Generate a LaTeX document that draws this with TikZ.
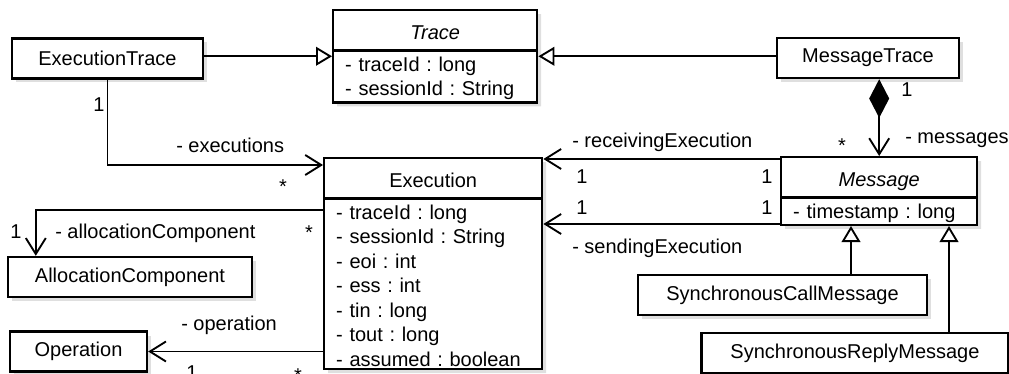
\documentclass[tikz,border=0pt]{standalone}
\usepackage{fontspec}
\setmainfont{Liberation Sans}
\usetikzlibrary{arrows.meta,shapes.multipart,shadows,calc}

\frenchspacing
\newcommand{\classtitle}[1]{\hbox to\hsize{\hss\rule[-6.75pt]{0pt}{26.5pt}#1\hss}}
\newcommand{\attrtop}{\raggedright\rule{0pt}{13.5pt}}

\begin{document}
\begin{tikzpicture}[
  x=0.75pt, y=-0.75pt,
  font=\fontsize{15}{18.4}\selectfont,
  boxlook/.style={rectangle, draw, line width=1.8pt, fill=white, drop shadow={shadow xshift=3pt, shadow yshift=-3pt, opacity=0.25}},
  classbox/.style={boxlook, minimum height=30pt, text centered},
  splitbox/.style={boxlook, rectangle split, rectangle split parts=2, anchor=north west, inner xsep=9pt, inner ysep=1pt},
  assoc/.style={-{Straight Barb[length=12pt, width=15pt]}, line width=1.4pt},
  inherit/.style={-{Triangle[open, length=12pt, width=14pt, fill=white]}, line width=1.4pt},
  compose/.style={{Diamond[length=29pt, width=15pt]}-{Straight Barb[length=12pt, width=15pt]}, line width=1.4pt},
  lbl/.style={anchor=base, inner sep=0pt},
  role/.style={anchor=base west, inner sep=0pt}
]
\useasboundingbox (0,0) rectangle (1009,374);

% Classes with attributes
\node[splitbox, text width=135pt] (trace) at (332,9) {\classtitle{\textit{Trace}}\nodepart{two}\attrtop- traceId : long\\- sessionId : String};
\node[splitbox, text width=145.5pt] (exec) at (323,157) {\classtitle{Execution}\nodepart{two}\attrtop- traceId : long\\- sessionId : String\\- eoi : int\\- ess : int\\- tin : long\\- tout : long\\- assumed : boolean};
\node[splitbox, text width=129pt] (msg) at (780,156) {\classtitle{\textit{Message}}\nodepart{two}\attrtop- timestamp : long};

% Plain classes
\node[classbox, minimum width=143.25pt] (extrace) at (107.5,58.5) {ExecutionTrace};
\node[classbox, minimum width=136.5pt] (msgtrace) at (868,58) {MessageTrace};
\node[classbox, minimum width=183pt] (alloc) at (130,277) {AllocationComponent};
\node[classbox, minimum width=102.75pt] (op) at (78.5,351.5) {Operation};
\node[classbox, minimum width=216.75pt] (call) at (782.5,295) {SynchronousCallMessage};
\node[classbox, minimum width=230pt] (reply) at (855,353) {SynchronousReplyMessage};

% Generalizations
\draw[inherit] (extrace.east |- trace.west) -- (trace.west);
\draw[inherit] (msgtrace.west |- trace.east) -- (trace.east);
\coordinate (callup) at ($(msg.south west)+(71,0)$);
\coordinate (replyup) at ($(msg.south west)+(169,0)$);
\draw[inherit] (call.north -| callup) -- (callup);
\draw[inherit] (reply.north -| replyup) -- (replyup);

% Composition
\draw[compose] (msgtrace.south -| msg.north) -- (msg.north);

% Associations
\coordinate (recvend) at ($(exec.north east)+(0,2)$);
\coordinate (sendend) at ($(msg.south west)+(0,-2)$);
\draw[assoc] (extrace.south) |- ($(exec.north west)+(0,8)$);
\draw[assoc] ($(exec.north west)+(0,53)$) -| ($(alloc.north west)+(29,0)$);
\draw[assoc] (exec.west |- op.east) -- (op.east);
\draw[assoc] (msg.west |- recvend) -- (recvend);
\draw[assoc] (sendend) -- (sendend -| exec.east);

% Multiplicities
\node[lbl] (m1) at (99,112) {1};
\node[lbl] (m2) at (283,193) {*};
\node[lbl] (m3) at (309,239) {*};
\node[lbl] (m4) at (16,238) {1};
\node[lbl] (m5) at (192,379) {1};
\node[lbl] (m6) at (298,382) {*};
\node[lbl] (m7) at (907,97) {1};
\node[lbl] (m8) at (842,152) {*};
\node[lbl] (m9) at (582,183) {1};
\node[lbl] (m10) at (767,183) {1};
\node[lbl] (m11) at (582,214) {1};
\node[lbl] (m12) at (767,214) {1};

% Role names
\node[role] (r1) at (176,152) {- executions};
\node[role] (r2) at (55,238) {- allocationComponent};
\node[role] (r3) at (181,330) {- operation};
\node[role] (r4) at (905,144) {- messages};
\node[role] (r5) at (572,147) {- receivingExecution};
\node[role] (r6) at (572,253) {- sendingExecution};

\end{tikzpicture}
\end{document}
